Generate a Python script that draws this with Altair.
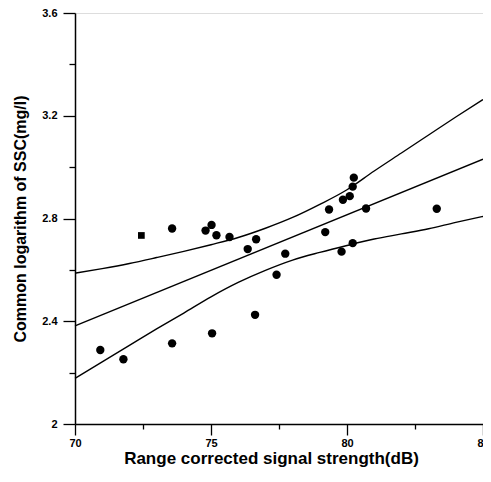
import altair as alt
import pandas as pd

# scatter points (range corrected signal strength, log SSC)
pt_x = [70.93, 71.78, 73.57, 73.57, 74.80, 75.02, 75.20, 75.04, 75.68, 76.35,
        76.66, 76.62, 77.41, 77.73, 79.20, 79.34, 79.80, 79.85, 80.10, 80.21,
        80.25, 80.21, 80.70, 83.30]
pt_y = [2.288, 2.252, 2.761, 2.314, 2.753, 2.775, 2.735, 2.353, 2.728, 2.681,
        2.719, 2.425, 2.581, 2.663, 2.747, 2.835, 2.671, 2.873, 2.887, 2.924,
        2.959, 2.704, 2.839, 2.838]
sq_x = [72.44]
sq_y = [2.734]

# regression line (read at ends)
fit_x = [70, 85]
fit_y = [2.382, 3.031]

# confidence curves
band_x = [70, 71, 72, 73, 74, 75, 76, 77, 78, 79, 80, 81, 82, 83, 84, 85]
upper_y = [2.587, 2.605, 2.625, 2.648, 2.672, 2.698, 2.726, 2.762, 2.804, 2.855,
           2.912, 2.985, 3.055, 3.125, 3.195, 3.263]
lower_y = [2.178, 2.242, 2.306, 2.370, 2.432, 2.495, 2.551, 2.598, 2.638, 2.668,
           2.695, 2.720, 2.740, 2.760, 2.785, 2.808]

x_ticks = [70, 72.5, 75, 77.5, 80, 82.5, 85]
y_ticks = [2.0, 2.2, 2.4, 2.6, 2.8, 3.0, 3.2, 3.4, 3.6]

pts = pd.DataFrame({"x": pt_x, "y": pt_y})
sq = pd.DataFrame({"x": sq_x, "y": sq_y})
fit = pd.DataFrame({"x": fit_x, "y": fit_y})
bands = pd.concat([
    pd.DataFrame({"x": band_x, "y": upper_y, "c": "upper"}),
    pd.DataFrame({"x": band_x, "y": lower_y, "c": "lower"}),
])

FONT = "Liberation Sans"

xaxis = alt.Axis(
    values=x_ticks,
    title="Range corrected signal strength(dB)",
    labelExpr="datum.value % 5 === 0 ? '' + datum.value : ''",
    tickSize={"condition": {"test": "datum.value % 5 === 0", "value": 11}, "value": 5},
    grid=False, domainColor="black", domainWidth=1.5, tickColor="black", tickWidth=1.3,
    labelFont=FONT, labelFontWeight="bold", labelFontSize=11, labelColor="black",
    labelPadding=2, labelFlush=False,
    titleFont=FONT, titleFontWeight="bold", titleFontSize=17, titleColor="black",
    titlePadding=2, titleX=196,
)
yaxis = alt.Axis(
    values=y_ticks,
    title="Common logarithm of SSC(mg/l)",
    labelExpr="round(datum.value * 10) % 4 === 0 ? '' + datum.value : ''",
    tickSize={"condition": {"test": "round(datum.value * 10) % 4 === 0", "value": 12}, "value": 6},
    grid=False, domainColor="black", domainWidth=1.5, tickColor="black", tickWidth=1.3,
    labelFont=FONT, labelFontWeight="bold", labelFontSize=11, labelColor="black",
    labelPadding=6, labelFlush=False,
    titleFont=FONT, titleFontWeight="bold", titleFontSize=16, titleColor="black",
    titlePadding=13,
)

xs = alt.Scale(domain=[70, 85], nice=False, zero=False)
ys = alt.Scale(domain=[2, 3.6], nice=False, zero=False)

base_x = alt.X("x:Q", scale=xs, axis=xaxis)
base_y = alt.Y("y:Q", scale=ys, axis=yaxis)

band_layer = alt.Chart(bands).mark_line(color="black", strokeWidth=1.4, interpolate="monotone").encode(
    x=base_x, y=base_y, detail="c:N"
)
fit_layer = alt.Chart(fit).mark_line(color="black", strokeWidth=1.4).encode(x=base_x, y=base_y)
pt_layer = alt.Chart(pts).mark_circle(color="black", opacity=1, size=70).encode(x=base_x, y=base_y)
sq_layer = alt.Chart(sq).mark_square(color="black", opacity=1, size=45).encode(x=base_x, y=base_y)

chart = alt.layer(band_layer, fit_layer, pt_layer, sq_layer).properties(
    width=408, height=411,
    autosize=alt.AutoSizeParams(type="none"),
    padding={"left": 67, "top": 5, "right": 0, "bottom": 49},
).configure_view(stroke=None).configure(background="white")

chart.save("out.html", embed_options={"renderer": "svg", "actions": False})
